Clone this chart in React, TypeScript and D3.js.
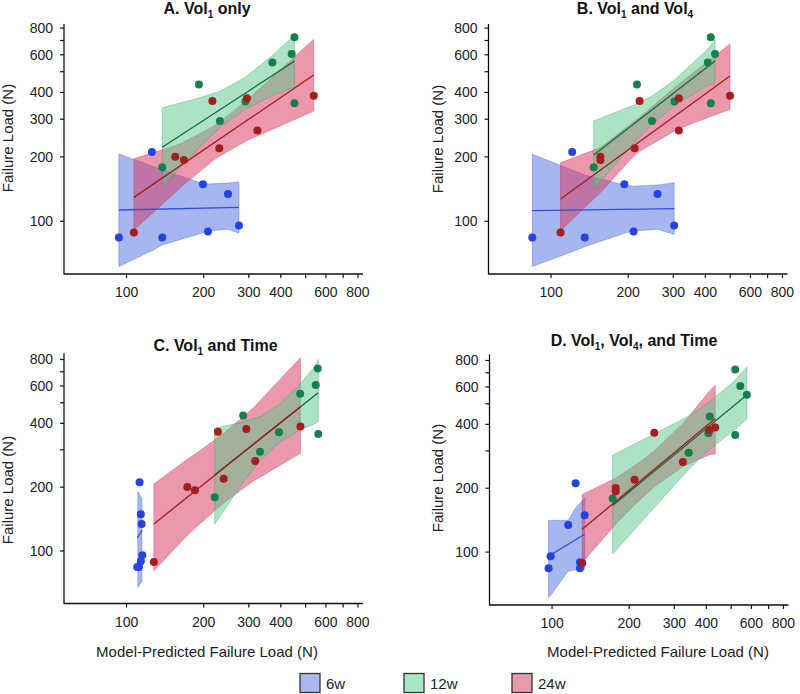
import React from 'react';
import * as d3 from 'd3';

const W = 800;
const H = 694;

// ---------- data ----------
const groups = ['6w', '12w', '24w'];

// Measured failure loads (N), same specimens in every panel
const load6w = [84, 211, 84, 149, 89.5, 134, 95.5];
const load12w = [179, 436, 294, 363.5, 552, 606, 725, 356];
const load24w = [88.7, 200.4, 193.4, 365, 219.3, 376, 265.6, 386.5];

// Model-predicted failure loads (N), per panel, same order as the loads
const predA6w = [93.3, 125.6, 137.8, 198.7, 207.8, 248.8, 274.6];
const predA12w = [137.8, 191.6, 231.4, 290.9, 370.7, 441, 452, 452];
const predA24w = [106.8, 154.9, 167.4, 216.2, 230.1, 295.1, 324, 537.6];

const predB6w = [84.5, 120.9, 135.3, 193.2, 209.9, 260.3, 302.3];
const predB12w = [146.7, 216.4, 247.6, 303.1, 409, 436.5, 420.2, 420.2];
const predB24w = [108.9, 155.8, 155.8, 221.6, 211.9, 315.3, 315.3, 499.3];

const predC6w = [111.7, 112.4, 110.1, 113.7, 113.7, 114.5, 115.2];
const predC12w = [220.8, 285.2, 331.7, 393.4, 476.1, 547.3, 557.3, 559.8];
const predC24w = [127.8, 172.6, 184.9, 227.3, 239.3, 293.5, 317.7, 477];

const predD6w = [96.9, 123.6, 128.5, 134.1, 128.5, 115.6, 98.7];
const predD12w = [172.4, 412.6, 341.3, 407.5, 575.8, 542.8, 518.5, 518.5];
const predD24w = [131.1, 177.1, 177.1, 250.5, 209.9, 411.1, 324, 433.5];

// Fitted lines: [[xStart, yStart], [xEnd, yEnd]]
const fitA6w = [[93.3, 112.9], [274.6, 116.2]];
const fitA12w = [[137.8, 221.8], [452, 560.5]];
const fitA24w = [[106.8, 129.4], [537.6, 482.6]];
const fitB6w = [[84.5, 112.1], [302.3, 114.5]];
const fitB12w = [[146.7, 204], [436.5, 561]];
const fitB24w = [[108.9, 127.1], [499.3, 477.5]];
const fitC6w = [[110.1, 115.2], [115.2, 124.9]];
const fitC12w = [[220.8, 228.8], [559.8, 558]];
const fitC24w = [[127.8, 134.1], [477, 478.3]];
const fitD6w = [[96.9, 95.7], [134.1, 121.3]];
const fitD12w = [[172.4, 166], [575.8, 550]];
const fitD24w = [[131.1, 128], [433.5, 426]];

// Confidence bands: [x, lower, upper]
const bandA6w = [[93.3, 61.4, 206.5], [125.6, 72.9, 181.3], [137.8, 77.5, 173.7], [198.7, 88.4, 150.2], [207.8, 90.1, 149.4], [248.8, 91.7, 151], [274.6, 87.9, 152.6]];
const bandA12w = [[137.8, 145.7, 339], [191.6, 220.2, 377.1], [231.4, 275, 405], [290.9, 333.6, 470.8], [370.7, 387.6, 596], [452, 423.8, 741.6]];
const bandA24w = [[106.8, 91, 196], [154.9, 136.3, 225.5], [167.4, 148.4, 234.7], [216.2, 191.1, 276.1], [230.1, 201.5, 290.4], [295.1, 238.3, 368], [324, 250.6, 407.6], [537.6, 327.6, 708.7]];
const bandB6w = [[84.5, 61.4, 205.6], [120.9, 72.1, 173.7], [135.3, 76.1, 164.5], [193.2, 87.9, 147.8], [209.9, 90, 146], [260.3, 91.7, 147.8], [302.3, 86.9, 151.6]];
const bandB12w = [[146.7, 141.6, 294.3], [216.4, 240.6, 354.4], [247.6, 284.3, 384.2], [303.1, 346.2, 457.9], [409, 433, 637.9], [436.5, 440.5, 707]];
const bandB24w = [[108.9, 90.4, 187.8], [155.8, 136.2, 221], [211.9, 203.9, 294.6], [221.6, 212.4, 306.1], [315.3, 271.8, 438.1], [499.3, 333.8, 673.9]];
const bandC6w = [[110.6, 67.4, 190.6], [114.8, 71.7, 177]];
const bandC12w = [[220.8, 134, 379], [285.2, 211.3, 405.5], [331.7, 266.4, 429.5], [393.4, 324.3, 489.8], [476.1, 373, 614.9], [547.3, 399.5, 749.9], [559.8, 407, 802]];
const bandC24w = [[127.8, 80.7, 207], [172.6, 118.6, 270.6], [184.9, 128.1, 286.2], [227.3, 159.9, 342], [239.3, 168.1, 359.5], [293.5, 202.4, 442.3], [317.7, 216.2, 483], [477, 289, 816]];
const bandD6w = [[96.9, 60.9, 141.1], [98.7, 62.5, 141], [115.6, 81.3, 141.1], [123.6, 82.5, 161.2], [128.5, 83, 170], [134.1, 82.9, 180.3]];
const bandD12w = [[172.4, 98.2, 285.8], [341.3, 245.8, 437.1], [407.5, 301.2, 506.1], [518.5, 380.4, 646.3], [575.8, 423, 745]];
const bandD24w = [[131.1, 89, 187], [177.1, 135.4, 223.1], [209.9, 167, 255.1], [250.5, 202.8, 299.9], [324, 252.8, 403.2], [411.1, 287.7, 572.8], [433.5, 291, 612]];

// Ticks
const axisTicks = [100, 200, 300, 400, 500, 600, 700, 800];
const xTickLabels = ['100', '200', '300', '400', '', '600', '', '800'];
const yTickLabelsTop = ['100', '200', '300', '400', '', '600', '', '800'];
const yTickLabelsBottom = ['100', '200', '', '400', '', '600', '', '800'];

const titleA = [['A. Vol', false], ['1', true], [' only', false]];
const titleB = [['B. Vol', false], ['1', true], [' and Vol', false], ['4', true]];
const titleC = [['C. Vol', false], ['1', true], [' and Time', false]];
const titleD = [['D. Vol', false], ['1', true], [', Vol', false], ['4', true], [', and Time', false]];

const yAxisTitle = 'Failure Load (N)';
const xAxisTitle = 'Model-Predicted Failure Load (N)';

// ---------- styles ----------
const FONT = '"Liberation Sans", Arial, Helvetica, sans-serif';
const bandFill = ['rgb(80,110,225)', 'rgb(90,200,140)', 'rgb(215,50,90)'];
const bandStroke = ['rgb(60,90,210)', 'rgb(50,150,100)', 'rgb(190,40,80)'];
const lineColor = ['#2f4ee6', '#146b3e', '#a31b1b'];
const pointColor = ['#2443e0', '#17804a', '#a51d1d'];
const legendFill = ['#a9b8f0', '#a8e6c8', '#e899ac'];

const X_DOMAIN = [57, 837];

const panels = [
  {
    id: 'A', x0: 64, yTop: 24, yBot: 274, yDom: [56.7, 836], yLabels: yTickLabelsTop,
    title: titleA, titleX: 207, titleY: 14, yTitleX: 13, yTitleY: 138, xTitle: false,
    preds: [predA6w, predA12w, predA24w], fits: [fitA6w, fitA12w, fitA24w], bands: [bandA6w, bandA12w, bandA24w],
  },
  {
    id: 'B', x0: 488.5, yTop: 24, yBot: 274, yDom: [56.7, 836], yLabels: yTickLabelsTop,
    title: titleB, titleX: 635, titleY: 14, yTitleX: 443, yTitleY: 139, xTitle: false,
    preds: [predB6w, predB12w, predB24w], fits: [fitB6w, fitB12w, fitB24w], bands: [bandB6w, bandB12w, bandB24w],
  },
  {
    id: 'C', x0: 64, yTop: 353.3, yBot: 603.5, yDom: [56.5, 856], yLabels: yTickLabelsBottom,
    title: titleC, titleX: 215.5, titleY: 350.5, yTitleX: 13, yTitleY: 490, xTitle: true, xTitleX: 207,
    preds: [predC6w, predC12w, predC24w], fits: [fitC6w, fitC12w, fitC24w], bands: [bandC6w, bandC12w, bandC24w],
  },
  {
    id: 'D', x0: 489.5, yTop: 354.5, yBot: 605, yDom: [56.3, 854], yLabels: yTickLabelsBottom,
    title: titleD, titleX: 634, titleY: 346, yTitleX: 443, yTitleY: 478, xTitle: true, xTitleX: 658,
    preds: [predD6w, predD12w, predD24w], fits: [fitD6w, fitD12w, fitD24w], bands: [bandD6w, bandD12w, bandD24w],
  },
];

const loads = [load6w, load12w, load24w];

function Panel({ p }: { p: any }) {
  const x = d3.scaleLog().domain(X_DOMAIN).range([p.x0, p.x0 + 299]);
  const y = d3.scaleLog().domain(p.yDom).range([p.yBot, p.yTop]);
  const area = d3
    .area<number[]>()
    .x((d) => x(d[0]))
    .y0((d) => y(d[1]))
    .y1((d) => y(d[2]));
  const line = d3
    .line<number[]>()
    .x((d) => x(d[0]))
    .y((d) => y(d[1]));
  const bandOrder = [0, 2, 1];
  const pointOrder = [0, 1, 2];
  const xEnd = p.x0 + 299;
  return (
    <g>
      {/* title */}
      <text x={p.titleX} y={p.titleY} textAnchor="middle" fontFamily={FONT} fontWeight="bold" fontSize={16} fill="#111">
        {p.title.map((seg: any, i: number) => {
          const prevSub = i > 0 && p.title[i - 1][1];
          const dy = seg[1] ? 4 : prevSub ? -4 : 0;
          return (
            <tspan key={i} dy={dy} fontSize={seg[1] ? 10 : 16}>
              {seg[0]}
            </tspan>
          );
        })}
      </text>
      {/* bands */}
      {bandOrder.map((g) => (
        <path key={'b' + g} d={area(p.bands[g]) || ''} fill={bandFill[g]} fillOpacity={0.5} stroke={bandStroke[g]} strokeOpacity={0.45} strokeWidth={0.8} />
      ))}
      {/* lines */}
      {[0, 1, 2].map((g) => (
        <path key={'l' + g} d={line(p.fits[g]) || ''} fill="none" stroke={lineColor[g]} strokeWidth={1.3} />
      ))}
      {/* points */}
      {pointOrder.map((g) =>
        p.preds[g].map((xv: number, i: number) => (
          <circle key={'p' + g + '-' + i} cx={x(xv)} cy={y(loads[g][i])} r={4} fill={pointColor[g]} />
        ))
      )}
      {/* axes */}
      <line x1={p.x0} x2={p.x0} y1={p.yTop} y2={p.yBot + 0.6} stroke="#111" strokeWidth={1.3} />
      <line x1={p.x0} x2={xEnd} y1={p.yBot} y2={p.yBot} stroke="#111" strokeWidth={1.3} />
      {axisTicks.map((t, i) => (
        <g key={'yt' + t}>
          <line x1={p.x0 - 4} x2={p.x0} y1={y(t)} y2={y(t)} stroke="#111" strokeWidth={1.2} />
          {p.yLabels[i] && (
            <text x={p.x0 - 11} y={y(t)} dy="0.35em" textAnchor="end" fontFamily={FONT} fontSize={14} fill="#222">
              {p.yLabels[i]}
            </text>
          )}
        </g>
      ))}
      {axisTicks.map((t, i) => (
        <g key={'xt' + t}>
          <line x1={x(t)} x2={x(t)} y1={p.yBot} y2={p.yBot + 4} stroke="#111" strokeWidth={1.2} />
          {xTickLabels[i] && (
            <text x={x(t)} y={p.yBot + 23} textAnchor="middle" fontFamily={FONT} fontSize={14} fill="#222">
              {xTickLabels[i]}
            </text>
          )}
        </g>
      ))}
      {/* axis titles */}
      <text transform={`translate(${p.yTitleX},${p.yTitleY}) rotate(-90)`} textAnchor="middle" fontFamily={FONT} fontSize={15} fill="#222">
        {yAxisTitle}
      </text>
      {p.xTitle && (
        <text x={p.xTitleX} y={657} textAnchor="middle" fontFamily={FONT} fontSize={15} fill="#222">
          {xAxisTitle}
        </text>
      )}
    </g>
  );
}

const legendX = [300, 404, 512];

export default function App() {
  return (
    <svg width={W} height={H} viewBox={`0 0 ${W} ${H}`} style={{ position: 'absolute', left: 0, top: 0, background: '#fff' }}>
      <rect x={0} y={0} width={W} height={H} fill="#fff" />
      {panels.map((p) => (
        <Panel key={p.id} p={p} />
      ))}
      {groups.map((g, i) => (
        <g key={g}>
          <rect x={legendX[i]} y={673.5} width={20} height={19} fill={legendFill[i]} stroke="#333" strokeWidth={1.3} />
          <text x={legendX[i] + 26} y={689} fontFamily={FONT} fontSize={15} fill="#222">
            {g}
          </text>
        </g>
      ))}
    </svg>
  );
}
